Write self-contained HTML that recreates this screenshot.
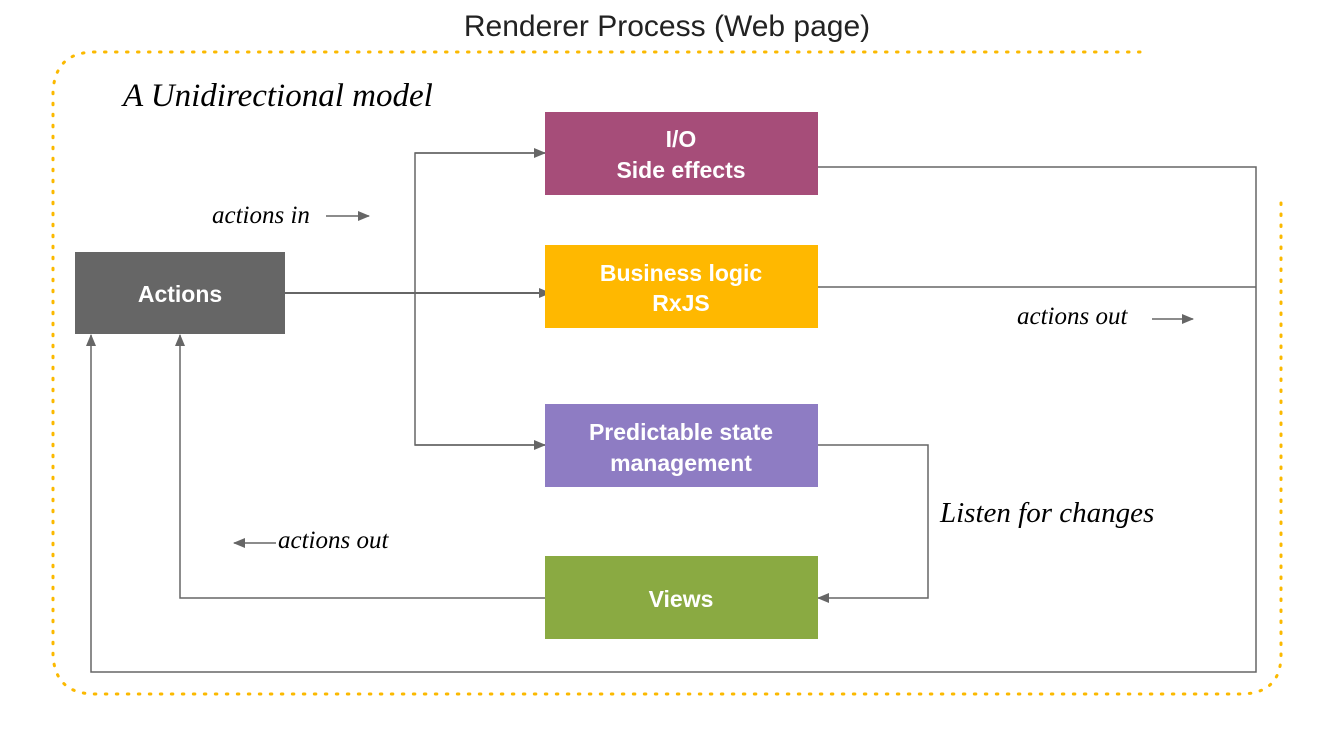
<!DOCTYPE html>
<html><head><meta charset="utf-8"><style>
html,body{margin:0;padding:0;background:#fff;width:1335px;height:731px;overflow:hidden}
svg{display:block}
.b{font-family:"Liberation Sans",sans-serif;font-weight:bold;font-size:23px;fill:#fff;text-anchor:middle}
.h{font-family:"Liberation Serif",serif;font-style:italic;fill:#000}
</style></head><body>
<svg width="1335" height="731" viewBox="0 0 1335 731" xmlns="http://www.w3.org/2000/svg">
<defs>
<marker id="a" markerWidth="12" markerHeight="10" refX="11" refY="5" orient="auto" markerUnits="userSpaceOnUse">
<path d="M0,0 L12,5 L0,10 z" fill="#666"/></marker>
</defs>
<text x="667" y="36" font-family="Liberation Sans,sans-serif" font-size="30" fill="#222" text-anchor="middle">Renderer Process (Web page)</text>
<g fill="none" stroke="#fbb900" stroke-width="3" stroke-dasharray="1.5 9.5" stroke-linecap="round">
<path d="M1140,52 L95,52 Q55,52 53,92 L53,655 Q55,694 95,694 L1240,694 Q1281,694 1281,655 L1281,200"/>
</g>
<text class="h" x="123" y="106" font-size="33">A Unidirectional model</text>
<text class="h" x="212" y="223" font-size="25">actions in</text>
<text class="h" x="1017" y="324" font-size="25">actions out</text>
<text class="h" x="278" y="548" font-size="25">actions out</text>
<text class="h" x="940" y="522" font-size="29">Listen for changes</text>
<g stroke="#666" stroke-width="1.5" fill="none">
<line x1="326" y1="216" x2="369" y2="216" marker-end="url(#a)"/>
<line x1="1152" y1="319" x2="1193" y2="319" marker-end="url(#a)"/>
<line x1="276" y1="543" x2="234" y2="543" marker-end="url(#a)"/>
<path d="M285,293 L550,293" stroke-width="2" marker-end="url(#a)"/>
<path d="M545,153 L415,153 L415,445 L545,445" />
<line x1="415" y1="153" x2="545" y2="153" marker-end="url(#a)"/>
<line x1="415" y1="445" x2="545" y2="445" marker-end="url(#a)"/>
<path d="M818,167 L1256,167 L1256,672 L91,672 L91,335" marker-end="url(#a)"/>
<path d="M818,287 L1256,287"/>
<path d="M818,445 L928,445 L928,598 L818,598" marker-end="url(#a)"/>
<path d="M545,598 L180,598 L180,335" marker-end="url(#a)"/>
</g>
<rect x="75" y="252" width="210" height="82" fill="#666"/>
<text class="b" x="180" y="302">Actions</text>
<rect x="545" y="112" width="273" height="83" fill="#a64d79"/>
<text class="b" x="681" y="147">I/O</text><text class="b" x="681" y="178">Side effects</text>
<rect x="545" y="245" width="273" height="83" fill="#ffb800"/>
<text class="b" x="681" y="281">Business logic</text><text class="b" x="681" y="311">RxJS</text>
<rect x="545" y="404" width="273" height="83" fill="#8e7cc3"/>
<text class="b" x="681" y="440">Predictable state</text><text class="b" x="681" y="471">management</text>
<rect x="545" y="556" width="273" height="83" fill="#8aaa42"/>
<text class="b" x="681" y="607">Views</text>
</svg>
</body></html>
